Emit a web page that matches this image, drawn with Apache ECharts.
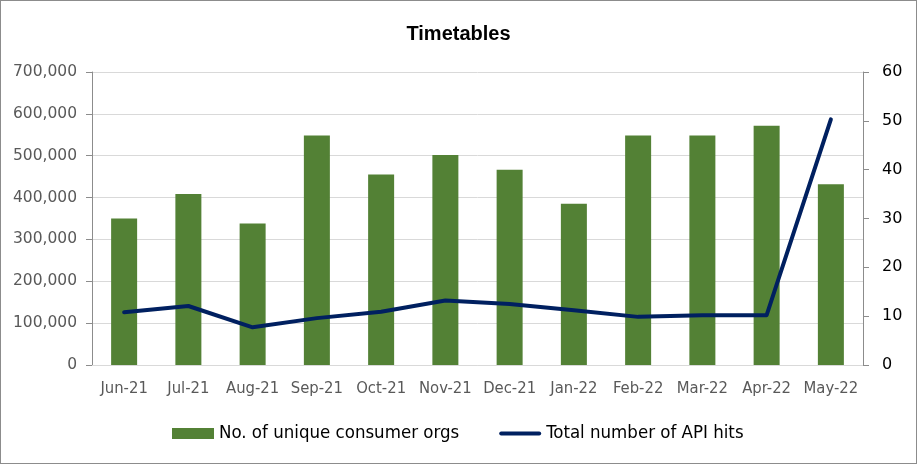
<!DOCTYPE html>
<html>
<head>
<meta charset="utf-8">
<script src="https://cdn.jsdelivr.net/npm/echarts@6/dist/echarts.min.js"></script>
<style>
  html, body { margin: 0; padding: 0; background: #fff; }
  #chart { width: 915px; height: 462px; border: 1px solid #8c8c8c; }
</style>
</head>
<body>
<div id="chart"></div>
<script>
const months = ["Jun-21", "Jul-21", "Aug-21", "Sep-21", "Oct-21", "Nov-21", "Dec-21", "Jan-22", "Feb-22", "Mar-22", "Apr-22", "May-22"];
const consumerOrgs = [30, 35, 29, 47, 39, 43, 40, 33, 47, 47, 49, 37];
const apiHits = [126000, 141000, 90000, 112000, 127000, 154000, 146000, 131000, 115000, 119000, 119000, 587000];

const FONT = "'DejaVu Sans Condensed', 'Liberation Sans Narrow', 'Liberation Sans', sans-serif";
const GREEN = "#538135";
const NAVY = "#002060";

let chart = echarts.init(document.getElementById("chart"));
chart.setOption({
    animation: false,
    textStyle: { fontFamily: FONT },
    title: {
        text: "Timetables",
        left: "center",
        top: 18,
        textStyle: { fontFamily: "'Liberation Sans', sans-serif", fontSize: 20, fontWeight: "bold", color: "#000" }
    },
    legend: {
        left: 166,
        top: 418,
        itemGap: 40,
        itemWidth: 42,
        itemHeight: 11,
        textStyle: { fontFamily: FONT, fontSize: 18.5, color: "#000" },
        data: [
            { name: "No. of unique consumer orgs", icon: "rect" },
            { name: "Total number of API hits", icon: "path://M2,0 L40,0 A2,2 0 0 1 40,4 L2,4 A2,2 0 0 1 2,0 Z" }
        ]
    },
    grid: { left: 91, right: 53, top: 71, bottom: 98 },
    xAxis: {
        type: "category",
        data: months,
        axisTick: { show: false },
        axisLine: { lineStyle: { color: "#d9d9d9", width: 1 } },
        axisLabel: { color: "#595959", fontSize: 16.5, margin: 15, interval: 0 }
    },
    yAxis: [
        {
            type: "value",
            min: 0, max: 700000, interval: 100000,
            axisLine: { show: true, lineStyle: { color: "#8c8c8c" } },
            axisTick: { show: true, length: 6, lineStyle: { color: "#8c8c8c" } },
            splitLine: { lineStyle: { color: "#d9d9d9", width: 1 } },
            axisLabel: {
                color: "#595959", fontSize: 15.5, margin: 15,
                fontFamily: "'DejaVu Sans', sans-serif",
                formatter: v => v.toLocaleString("en-US")
            }
        },
        {
            type: "value",
            min: 0, max: 60, interval: 10,
            axisLine: { show: true, lineStyle: { color: "#8c8c8c" } },
            axisTick: { show: true, length: 6, lineStyle: { color: "#8c8c8c" } },
            splitLine: { show: false },
            axisLabel: { color: "#000", fontSize: 16, margin: 19, fontFamily: "'DejaVu Sans', sans-serif" }
        }
    ],
    series: [
        {
            name: "No. of unique consumer orgs",
            type: "bar",
            yAxisIndex: 1,
            data: consumerOrgs,
            barWidth: 26,
            itemStyle: { color: GREEN }
        },
        {
            name: "Total number of API hits",
            type: "line",
            yAxisIndex: 0,
            data: apiHits,
            symbol: "none",
            lineStyle: { color: NAVY, width: 4, cap: "round", join: "round" },
            itemStyle: { color: NAVY }
        }
    ]
});
</script>
</body>
</html>
